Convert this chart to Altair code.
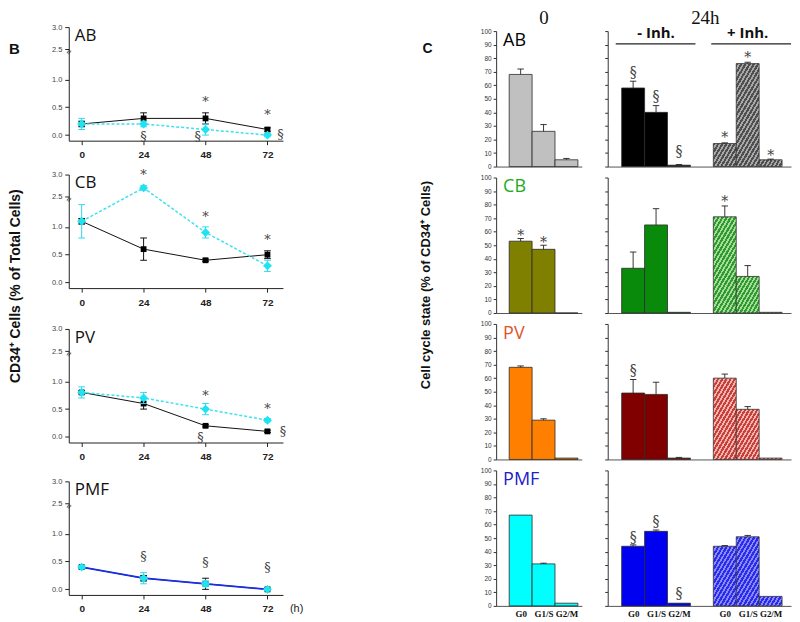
import altair as alt
import pandas as pd

# ---------------- Panel B: CD34+ cells over time ----------------
hours = [0, 24, 48, 72]
b_panels = ["AB", "CB", "PV", "PMF"]
ctrl_mean = {"AB": [0.2, 0.3, 0.3, 0.1], "CB": [1.1, 0.6, 0.4, 0.5],
             "PV": [0.8, 0.6, 0.2, 0.1], "PMF": [0.4, 0.2, 0.1, 0.0]}
ctrl_err = {"AB": [0.05, 0.1, 0.1, 0.03], "CB": [0.05, 0.2, 0.02, 0.07],
            "PV": [0.03, 0.1, 0.02, 0.02], "PMF": [0.02, 0.05, 0.1, 0.02]}
inh_mean = {"AB": [0.2, 0.2, 0.1, 0.0], "CB": [1.1, 2.7, 0.9, 0.3],
            "PV": [0.8, 0.7, 0.5, 0.3], "PMF": [0.4, 0.2, 0.1, 0.0]}
inh_err = {"AB": [0.1, 0.05, 0.1, 0.03], "CB": [0.3, 0.05, 0.1, 0.1],
           "PV": [0.1, 0.1, 0.1, 0.03], "PMF": [0.03, 0.1, 0.05, 0.02]}

b_ann_panel = ["AB", "AB", "AB", "AB", "AB", "CB", "CB", "CB", "PV", "PV", "PV", "PV", "PMF", "PMF", "PMF"]
b_ann_hour = [48, 72, 24, 45, 77, 24, 48, 72, 48, 72, 46, 78, 24, 48, 72]
b_ann_value = [0.6, 0.36, -0.03, -0.03, 0.0, 3.0, 1.18, 0.76, 0.74, 0.5, -0.02, 0.08, 0.58, 0.48, 0.38]
b_ann_text = ["*", "*", "§", "§", "§", "*", "*", "*", "*", "*", "§", "§", "§", "§", "§"]

# ---------------- Panel C: cell cycle state ----------------
phases = ["G0", "G1/S", "G2/M"]
c_rows = ["AB", "CB", "PV", "PMF"]
t0_mean = {"AB": [68, 26, 5], "CB": [53, 47, 0], "PV": [68, 29, 1], "PMF": [67, 31, 2]}
t0_err = {"AB": [4, 5, 1], "CB": [2, 3, 0], "PV": [1, 1, 0], "PMF": [0, 0.5, 0]}
minus_mean = {"AB": [58, 40, 1], "CB": [33, 65, 0.5], "PV": [49, 48, 1], "PMF": [44, 55, 2]}
minus_err = {"AB": [5, 5, 0.5], "CB": [12, 12, 0], "PV": [10, 9, 0.5], "PMF": [1, 1, 0]}
plus_mean = {"AB": [17, 76, 5], "CB": [71, 27, 0.5], "PV": [60, 37, 1], "PMF": [44, 51, 7]}
plus_err = {"AB": [0.5, 1, 0.5], "CB": [8, 8, 0], "PV": [3, 2, 0], "PMF": [0.5, 1, 0]}

c_ann_row = ["AB", "AB", "AB", "AB", "AB", "AB", "CB", "CB", "CB", "PV", "PMF", "PMF", "PMF"]
c_ann_cond = ["-", "-", "-", "+", "+", "+", "0", "0", "+", "-", "-", "-", "-"]
c_ann_k = [0, 1, 2, 0, 1, 2, 0, 1, 0, 0, 0, 1, 2]
c_ann_value = [69, 51, 11, 21, 80, 8, 57, 52, 82, 65, 50, 62, 9]
c_ann_text = ["§", "§", "§", "*", "*", "*", "*", "*", "*", "§", "§", "§", "§"]

row_colors = {
    "AB": ("#c0c0c0", "#000000", ("#4f4f4f", "#a8a8a8")),
    "CB": ("#7f7f00", "#0a8a0a", ("#2f9a2f", "#a8dc9a")),
    "PV": ("#ff8000", "#800000", ("#c8403c", "#f4b4ae")),
    "PMF": ("#00ffff", "#0000f0", ("#2b2bea", "#8a8aff")),
}
label_colors = {"AB": "#000000", "CB": "#22aa22", "PV": "#e0542a", "PMF": "#2020c8"}

# ---------------- tables ----------------
rows_b = []
for p in b_panels:
    for s, m, e in (("ctrl", ctrl_mean, ctrl_err), ("inh", inh_mean, inh_err)):
        for t, v, err in zip(hours, m[p], e[p]):
            rows_b.append({"panel": p, "series": s, "t": t, "v": v, "e": err})
df_b = pd.DataFrame(rows_b)
df_bann = pd.DataFrame({"panel": b_ann_panel, "t": b_ann_hour, "v": b_ann_value, "txt": b_ann_text})

rows_c = []
for r in c_rows:
    for cond, m, e, p0 in (("0", t0_mean, t0_err, 0), ("-", minus_mean, minus_err, 0), ("+", plus_mean, plus_err, 4)):
        for k in range(3):
            rows_c.append({"row": r, "cond": cond, "k": k, "pos": p0 + k,
                           "val": m[r][k], "err": e[r][k]})
df_c = pd.DataFrame(rows_c)
df_cann = pd.DataFrame({"row": c_ann_row, "cond": c_ann_cond,
                        "pos": [k + (4 if c == "+" else 0) for c, k in zip(c_ann_cond, c_ann_k)],
                        "v": c_ann_value, "txt": c_ann_text})

BRK = "(X > 1.5 ? 1.54 + (X - 2.5) * 0.8 : X)"


def brk(expr):
    return BRK.replace("X", expr)


LINE_H = 114
ROW_H = 136
line_off = [-4, -3, 5, 11]


def line_panel(i, p):
    off = line_off[i]
    xs = alt.Scale(domain=[-5, 78], range=[0, 215], nice=False, zero=False)
    ys = alt.Scale(domain=[-0.1, 1.94], range=[off + LINE_H, off], nice=False, zero=False)
    xax = alt.Axis(values=hours, title=None, grid=False, format="d", labelFont="Liberation Sans",
                   labelFontWeight="bold", labelFontSize=10, labelColor="#222", tickSize=4,
                   domainColor="#222", tickColor="#222", labelPadding=5, offset=off + LINE_H - ROW_H)
    yax = alt.Axis(values=[0, 0.5, 1.0, 1.54, 1.94],
                   labelExpr="datum.value > 1.7 ? '3.0' : (datum.value > 1.2 ? '2.5' : format(datum.value, '.1f'))",
                   title=None, grid=False, tickSize=4, labelFontSize=7.5, labelColor="#444",
                   labelFont="Liberation Sans", labelPadding=3, domainColor="#222", tickColor="#222")
    X = lambda f: alt.X(f, scale=xs, axis=xax)
    Y = lambda f: alt.Y(f, scale=ys, axis=yax)
    base = alt.Chart(df_b).transform_filter(alt.datum.panel == p).transform_calculate(
        yd=brk("datum.v"), lo=brk("(datum.v - datum.e)"), hi=brk("(datum.v + datum.e)"),
        c0="datum.t - 1.3", c1="datum.t + 1.3")
    layers = []
    for s in ("ctrl", "inh"):
        sb = base.transform_filter(alt.datum.series == s)
        if s == "ctrl":
            lkw = dict(color="#111111", strokeWidth=1)
            ecol = "#111111"
            pkw = dict(shape="square", size=34, color="#000000")
        else:
            if p == "PMF":
                lkw = dict(color="#1a2ee6", strokeWidth=1.8)
            else:
                lkw = dict(color="#3fe0f0", strokeWidth=1.5, strokeDash=[3, 2])
            ecol = "#2fd8ec"
            pkw = dict(shape="diamond", size=80, color="#1ee3f0")
        layers.append(sb.mark_line(**lkw).encode(x=X("t:Q"), y=Y("yd:Q")))
        layers.append(sb.mark_rule(color=ecol, strokeWidth=1).encode(x=X("t:Q"), y=Y("lo:Q"), y2="hi:Q"))
        layers.append(sb.mark_rule(color=ecol, strokeWidth=1).encode(x=X("c0:Q"), x2="c1:Q", y=Y("hi:Q")))
        layers.append(sb.mark_rule(color=ecol, strokeWidth=1).encode(x=X("c0:Q"), x2="c1:Q", y=Y("lo:Q")))
        layers.append(sb.mark_point(filled=True, opacity=1, **pkw).encode(x=X("t:Q"), y=Y("yd:Q")))
    layers.append(
        alt.Chart(df_bann).transform_filter(alt.datum.panel == p).transform_calculate(yd=brk("datum.v"))
        .mark_text(fontSize=13, color="#444", baseline="middle", font="DejaVu Serif")
        .encode(x=X("t:Q"), y=Y("yd:Q"), text="txt:N"))
    one = pd.DataFrame({"lab": [p]})
    layers.append(alt.Chart(one).mark_text(align="left", baseline="alphabetic", fontSize=17, font="Open Sans",
                                           color="#111").encode(x=alt.value(6), y=alt.value(off + 14), text="lab:N"))
    layers.append(alt.Chart(one).mark_text(text="≈", fontSize=9, angle=300, color="#222")
                  .encode(x=alt.value(0), y=alt.value(off + 25)))
    if i == 0:
        layers.append(alt.Chart(one).mark_text(text="B", align="left", baseline="alphabetic", fontSize=15,
                                               fontWeight="bold", font="Liberation Sans", color="#111")
                      .encode(x=alt.value(-60), y=alt.value(23)))
    if i == 1:
        layers.append(alt.Chart(one).mark_text(text="CD34⁺ Cells (% of Total Cells)", angle=270, fontSize=14,
                                               fontWeight="bold", font="Liberation Sans", baseline="middle",
                                               align="center", color="#111")
                      .encode(x=alt.value(-53), y=alt.value(109)))
    if i == 3:
        layers.append(alt.Chart(one).mark_text(text="(h)", align="left", baseline="middle", fontSize=11,
                                               font="Liberation Sans", color="#222")
                      .encode(x=alt.value(222), y=alt.value(off + LINE_H + 14)))
    return alt.layer(*layers).properties(width=403, height=ROW_H)


def hatch(v, dark, light):
    w = 23.0
    h = max(v * 1.36, 1.0)
    k1 = 1.7
    P = 7.0
    L = k1 * w + h
    s = L / (k1 * k1 * w * w + h * h)
    n = max(1, int(round(L / P)))
    stops = []
    for j in range(n):
        a = j / n
        b = (j + 0.55) / n
        c = (j + 1) / n
        stops += [{"offset": round(a, 5), "color": dark}, {"offset": round(b, 5), "color": dark},
                  {"offset": round(b, 5), "color": light}, {"offset": round(c, 5), "color": light}]
    return {"gradient": "linear", "x1": 0, "y1": 0, "x2": k1 * w * s, "y2": h * s, "stops": stops}


def bar_panel(i, r, side):
    last = i == 3
    if side == "L":
        conds = ["0"]
        dom = [-1.07, 2.67]
        width = 86
        vals = [0, 1, 2]
        labs = "['G0','G1/S','G2/M'][datum.value]"
    else:
        conds = ["-", "+"]
        dom = [-1.11, 6.89]
        width = 184
        vals = [0, 1, 2, 4, 5, 6]
        labs = "['G0','G1/S','G2/M','','G0','G1/S','G2/M'][datum.value]"
    xs = alt.Scale(domain=dom, nice=False, zero=False)
    ys = alt.Scale(domain=[0, 100], nice=False)
    xax = alt.Axis(values=vals, labelExpr=labs, labels=last, ticks=False, title=None, grid=False,
                   domainColor="#555", labelFont="Liberation Serif", labelFontWeight="bold",
                   labelFontSize=9, labelColor="#111", labelPadding=4, labelOverlap=False,
                   labelBound=False, labelFlush=False)
    yax = alt.Axis(values=list(range(0, 101, 10)), labels=(side == "L"), title=None, grid=False,
                   tickSize=3, labelFontSize=6.5, labelColor="#333", labelFont="Liberation Sans",
                   labelPadding=2, domainColor="#333", tickColor="#333", labelOverlap=False)
    X = lambda f: alt.X(f, scale=xs, axis=xax)
    Y = lambda f: alt.Y(f, scale=ys, axis=yax)
    c0, cm, (hd, hl) = row_colors[r]
    base = alt.Chart(df_c).transform_filter(alt.datum.row == r).transform_calculate(
        x0="datum.pos - 0.5", x1="datum.pos + 0.5", top="datum.val + datum.err",
        c0="datum.pos - 0.14", c1="datum.pos + 0.14")
    layers = []
    for cond in conds:
        sb = base.transform_filter(alt.datum.cond == cond)
        if cond in ("0", "-"):
            fill = c0 if cond == "0" else cm
            layers.append(sb.mark_rect(fill=fill, stroke="#2b2b2b", strokeWidth=0.8)
                          .encode(x=X("x0:Q"), x2="x1:Q", y=Y("val:Q"), y2=alt.datum(0)))
        else:
            for k in range(3):
                layers.append(sb.transform_filter(alt.datum.k == k)
                              .mark_rect(fill=hatch(plus_mean[r][k], hd, hl), stroke="#333", strokeWidth=0.8)
                              .encode(x=X("x0:Q"), x2="x1:Q", y=Y("val:Q"), y2=alt.datum(0)))
        eb = sb.transform_filter(alt.datum.err > 0)
        layers.append(eb.mark_rule(color="#222", strokeWidth=0.9).encode(x=X("pos:Q"), y=Y("val:Q"), y2="top:Q"))
        layers.append(eb.mark_rule(color="#222", strokeWidth=0.9).encode(x=X("c0:Q"), x2="c1:Q", y=Y("top:Q")))
        layers.append(alt.Chart(df_cann).transform_filter((alt.datum.row == r) & (alt.datum.cond == cond))
                      .mark_text(fontSize=14, color="#444", baseline="middle", font="DejaVu Serif")
                      .encode(x=X("pos:Q"), y=Y("v:Q"), text="txt:N"))
    one = pd.DataFrame({"lab": [r]})
    if side == "L":
        layers.append(alt.Chart(one).mark_text(align="left", baseline="alphabetic", fontSize=18, font="Open Sans",
                                               color=label_colors[r])
                      .encode(x=alt.value(7), y=alt.value(15), text="lab:N"))
        if i == 0:
            layers.append(alt.Chart(one).mark_text(text="0", fontSize=19, font="Liberation Serif",
                                                   baseline="alphabetic", color="#111")
                          .encode(x=alt.value(48), y=alt.value(-7)))
            layers.append(alt.Chart(one).mark_text(text="C", align="left", baseline="alphabetic", fontSize=14,
                                                   fontWeight="bold", font="Liberation Sans", color="#111")
                          .encode(x=alt.value(-74), y=alt.value(22)))
        if i == 1:
            layers.append(alt.Chart(one).mark_text(text="Cell cycle state (% of CD34⁺ Cells)", angle=270,
                                                   fontSize=13, fontWeight="bold", font="Liberation Sans",
                                                   baseline="middle", align="center", color="#111")
                          .encode(x=alt.value(-70), y=alt.value(108)))
    else:
        if i == 0:
            layers.append(alt.Chart(one).mark_text(text="24h", fontSize=19, font="Liberation Serif",
                                                   baseline="alphabetic", color="#111")
                          .encode(x=alt.value(98), y=alt.value(-7)))
            inh = pd.DataFrame({"pos": [1, 5], "txt": ["- Inh.", "+ Inh."], "y": [95, 95],
                                "a": [-0.76, 3.41], "b": [2.72, 6.89], "u": [90.5, 90.5]})
            layers.append(alt.Chart(inh).mark_text(fontSize=15, fontWeight="bold", font="Open Sans",
                                                   baseline="alphabetic", color="#111")
                          .encode(x=X("pos:Q"), y=Y("y:Q"), text="txt:N"))
            layers.append(alt.Chart(inh).mark_rule(color="#222", strokeWidth=1.2)
                          .encode(x=X("a:Q"), x2="b:Q", y=Y("u:Q")))
    return alt.layer(*layers).properties(width=width, height=ROW_H)


charts = []
for i, p in enumerate(b_panels):
    charts.append(line_panel(i, p))
    charts.append(bar_panel(i, c_rows[i], "L"))
    charts.append(bar_panel(i, c_rows[i], "R"))

chart = alt.concat(*charts, columns=3, spacing={"row": 11, "column": 26}, bounds="flush").properties(
    padding=0).configure_view(stroke=None)

chart.save("out.html", embed_options={"renderer": "svg", "actions": False})
